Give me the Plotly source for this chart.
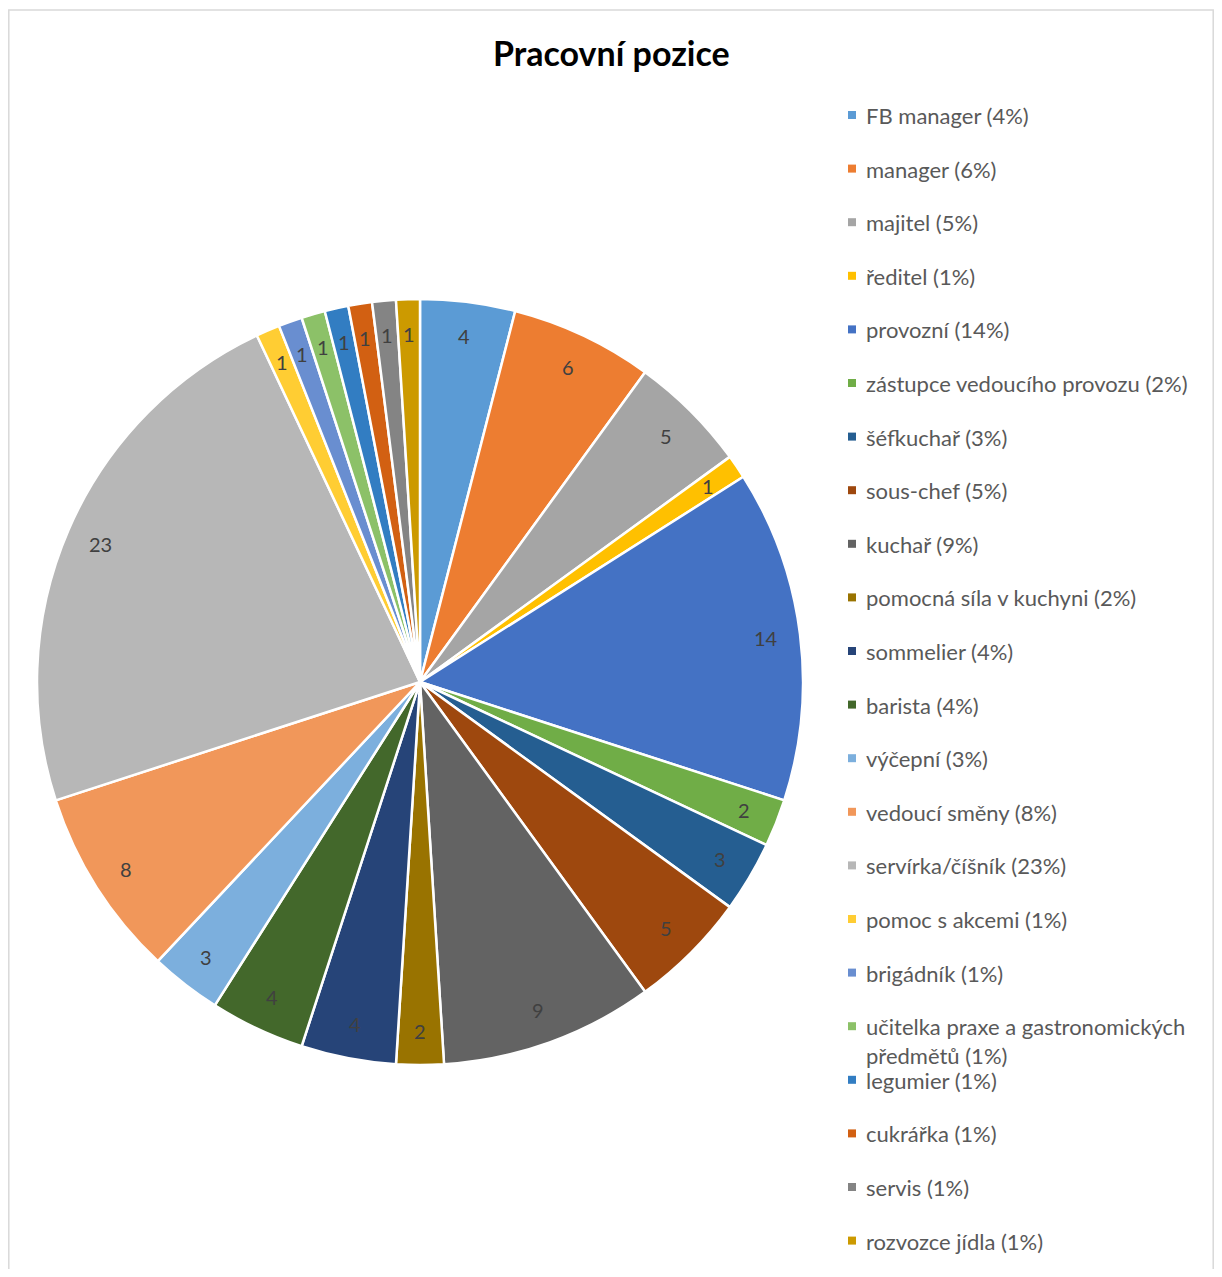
import math
import plotly.graph_objects as go

# ---- data ----
labels = [
    "FB manager", "manager", "majitel", "ředitel", "provozní",
    "zástupce vedoucího provozu", "šéfkuchař", "sous-chef", "kuchař",
    "pomocná síla v kuchyni", "sommelier", "barista", "výčepní",
    "vedoucí směny", "servírka/číšník", "pomoc s akcemi", "brigádník",
    "učitelka praxe a gastronomických<br>předmětů", "legumier", "cukrářka",
    "servis", "rozvozce jídla",
]
values = [4, 6, 5, 1, 14, 2, 3, 5, 9, 2, 4, 4, 3, 8, 23, 1, 1, 1, 1, 1, 1, 1]
colors = [
    "#5B9BD5", "#ED7D31", "#A5A5A5", "#FFC000", "#4472C4", "#70AD47",
    "#255E91", "#9E480E", "#636363", "#997300", "#264478", "#43682B",
    "#7CAFDD", "#F1975A", "#B7B7B7", "#FFCD33", "#698ED0", "#8CC168",
    "#327DC2", "#D26012", "#848484", "#CC9A00",
]
title = "Pracovní pozice"

# ---- layout geometry (screen pixels; page body has an 8px margin) ----
OFF = 8
W, H = 1222 - 2 * OFF, 1277 - 2 * OFF
CX, CY, R = 420, 682, 383          # pie centre / radius (screen px)
LABEL_R = 0.91                     # data label radius fraction
LEG_X_MARK, LEG_X_TEXT = 852, 864
LEG_Y0, LEG_DY = 115, 53.6
FONT = "Lato, Calibri, Carlito, sans-serif"

def px(x):
    return (x - OFF) / W

def py(y):
    return (H - (y - OFF)) / H

fig = go.Figure()
fig.add_trace(go.Pie(
    labels=labels,
    values=values,
    sort=False,
    direction="clockwise",
    rotation=0,
    marker=dict(colors=colors, line=dict(color="white", width=2.5)),
    textinfo="none",
    hoverinfo="label+value+percent",
    showlegend=False,
    domain=dict(x=[px(CX - R), px(CX + R)], y=[py(CY + R), py(CY - R)]),
))

annotations = []
shapes = []

# data labels at slice mid-angles
total = sum(values)
cum = 0
for v in values:
    mid = (cum + v / 2) / total * 2 * math.pi
    cum += v
    x = CX + LABEL_R * R * math.sin(mid)
    y = CY - LABEL_R * R * math.cos(mid)
    annotations.append(dict(
        x=px(x), y=py(y), xref="paper", yref="paper",
        text=str(v), showarrow=False,
        font=dict(family=FONT, size=20, color="#404040"),
        xanchor="center", yanchor="middle",
    ))

# legend (manual, Excel-like spacing)
for i, (lab, v, c) in enumerate(zip(labels, values, colors)):
    yc = LEG_Y0 + LEG_DY * i
    pct = round(v / total * 100)
    shapes.append(dict(
        type="rect", xref="paper", yref="paper",
        x0=px(LEG_X_MARK - 4), x1=px(LEG_X_MARK + 4),
        y0=py(yc + 4), y1=py(yc - 4),
        fillcolor=c, line=dict(width=0),
    ))
    annotations.append(dict(
        x=px(LEG_X_TEXT), y=py(yc - 15), xref="paper", yref="paper",
        text=f"{lab} ({pct}%)", showarrow=False, align="left",
        font=dict(family=FONT, size=22, color="#595959"),
        xanchor="left", yanchor="top",
    ))

# title
annotations.append(dict(
    x=px(611), y=py(53), xref="paper", yref="paper",
    text=f"<b>{title}</b>", showarrow=False,
    font=dict(family=FONT, size=34, color="#000000"),
    xanchor="center", yanchor="middle",
))

# chart border
shapes.append(dict(
    type="rect", xref="paper", yref="paper",
    x0=px(8.8), x1=px(1213.2), y0=-0.05, y1=py(10),
    line=dict(color="#D9D9D9", width=1.5), fillcolor="rgba(0,0,0,0)",
))

fig.update_layout(
    width=W, height=H,
    margin=dict(l=0, r=0, t=0, b=0),
    paper_bgcolor="white", plot_bgcolor="white",
    annotations=annotations, shapes=shapes,
    showlegend=False,
)

fig.write_html("out.html")
